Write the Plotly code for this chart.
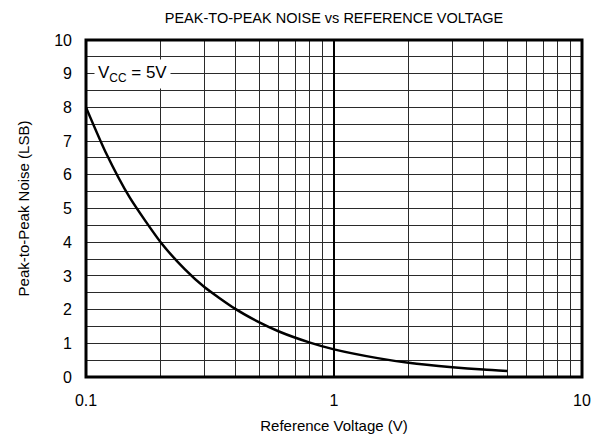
import plotly.graph_objects as go

# Data
ref_voltage = [0.1, 0.12, 0.15, 0.2, 0.25, 0.3, 0.4, 0.5, 0.6, 0.8, 1.0, 1.5, 2.0, 3.0, 4.0, 5.0]
noise_lsb = [8.0, 6.67, 5.33, 4.0, 3.2, 2.67, 2.02, 1.62, 1.35, 1.02, 0.82, 0.56, 0.42, 0.29, 0.22, 0.18]

x_major = [0.1, 1, 10]
x_major_text = ["0.1", "1", "10"]
x_minor = [m * d for d in (0.1, 1) for m in range(2, 10)]
y_major = list(range(0, 11))
y_minor = [i + 0.5 for i in range(0, 10)]

FONT = "Liberation Sans, Arial, sans-serif"
GRID = "#2a2a2a"

W, H = 601, 434  # page body has an 8px margin

fig = go.Figure()
fig.add_trace(go.Scatter(
    x=ref_voltage, y=noise_lsb, mode="lines",
    line=dict(color="black", width=2.5, shape="spline", smoothing=0.6),
    showlegend=False, hoverinfo="skip"))

fig.update_layout(
    width=W, height=H,
    margin=dict(l=78, r=27, t=32, b=65, autoexpand=False),
    paper_bgcolor="white", plot_bgcolor="white",
    font=dict(family=FONT, color="black", size=14),
    title=dict(text="PEAK-TO-PEAK NOISE vs REFERENCE VOLTAGE",
               x=(78 + 574) / 2 / W, xanchor="center",
               y=1 - 10 / H, yanchor="middle", automargin=False,
               font=dict(size=14.5, family=FONT, color="black")),
    xaxis=dict(type="log", range=[-1, 1], tickvals=x_major, ticktext=x_major_text,
               automargin=False,
               showgrid=True, gridcolor=GRID, gridwidth=1,
               minor=dict(tickvals=x_minor, showgrid=True, gridcolor=GRID, gridwidth=1),
               zeroline=False, showline=False, ticks="",
               ticklabelstandoff=12,
               tickfont=dict(size=16, family=FONT),
               title=dict(text="Reference Voltage (V)", standoff=12,
                          font=dict(size=15, family=FONT))),
    yaxis=dict(range=[0, 10], tickvals=y_major, automargin=False,
               showgrid=True, gridcolor=GRID, gridwidth=1,
               minor=dict(tickvals=y_minor, showgrid=True, gridcolor=GRID, gridwidth=1),
               zeroline=False, showline=False, ticks="",
               ticklabelstandoff=13,
               tickfont=dict(size=16, family=FONT),
               title=dict(text="Peak-to-Peak Noise (LSB)", standoff=20,
                          font=dict(size=15, family=FONT))),
)

# decade line at 1 V
fig.add_shape(type="line", xref="x", yref="paper", x0=1, x1=1, y0=0, y1=1,
              line=dict(color="black", width=2))
# plot frame
fig.add_shape(type="rect", xref="paper", yref="paper", x0=0, x1=1, y0=0, y1=1,
              line=dict(color="black", width=3))

fig.add_annotation(x=-1, xref="x", xanchor="left", xshift=8, y=9, yref="y",
                   text="V<sub>CC</sub> = 5V", showarrow=False,
                   font=dict(size=17, family=FONT, color="black"),
                   bgcolor="white", borderpad=3)

fig.write_html("out.html")
